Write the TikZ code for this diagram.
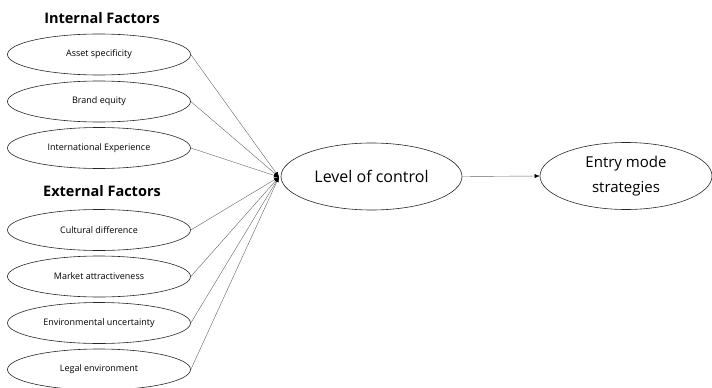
\documentclass[tikz,border=0pt]{standalone}
\usepackage{fontspec}
\setmainfont{Open Sans}
\usetikzlibrary{shapes.geometric,arrows.meta}
\tikzset{
  factor/.style={ellipse,draw=black!85,line width=0.6pt,minimum width=183pt,minimum height=41pt,inner sep=0pt,font=\fontsize{9}{11}\selectfont},
  bigell/.style={ellipse,draw=black!85,line width=0.6pt,minimum height=67pt,inner sep=0pt},
  heading/.style={font=\fontsize{14.5}{17}\selectfont\bfseries},
  link/.style={draw=black!60,line width=0.4pt,-{Latex[length=5pt,width=4pt,color=black]}}
}
\begin{document}
\begin{tikzpicture}[x=1pt,y=1pt]
\useasboundingbox (0,0) rectangle (712,-388);
\node[heading] (hi) at (102,-18) {Internal Factors};
\node[heading] (he) at (102,-191) {External Factors};
\node[factor] (f1) at (99,-54.5) {Asset specificity};
\node[factor] (f2) at (99,-101.5) {Brand equity};
\node[factor] (f3) at (99,-148) {International Experience};
\node[factor] (f4) at (99,-230) {Cultural difference};
\node[factor] (f5) at (99,-276.5) {Market attractiveness};
\node[factor] (f6) at (99,-323) {Environmental uncertainty};
\node[factor] (f7) at (99,-369.5) {Legal environment};
\node[bigell,minimum width=181pt,font=\fontsize{16}{19}\selectfont] (loc) at (371.5,-176.5) {Level of control};
\node[bigell,minimum width=172pt,font=\fontsize{15}{25}\selectfont,align=center] (ems) at (626,-176) {Entry mode\\strategies};
\coordinate (hub) at (279,-177);
\foreach \i in {1,...,7} {
  \draw[link] (f\i.east) -- (hub);
}
\draw[link] (loc.east) -- (ems.west);
\end{tikzpicture}
\end{document}
